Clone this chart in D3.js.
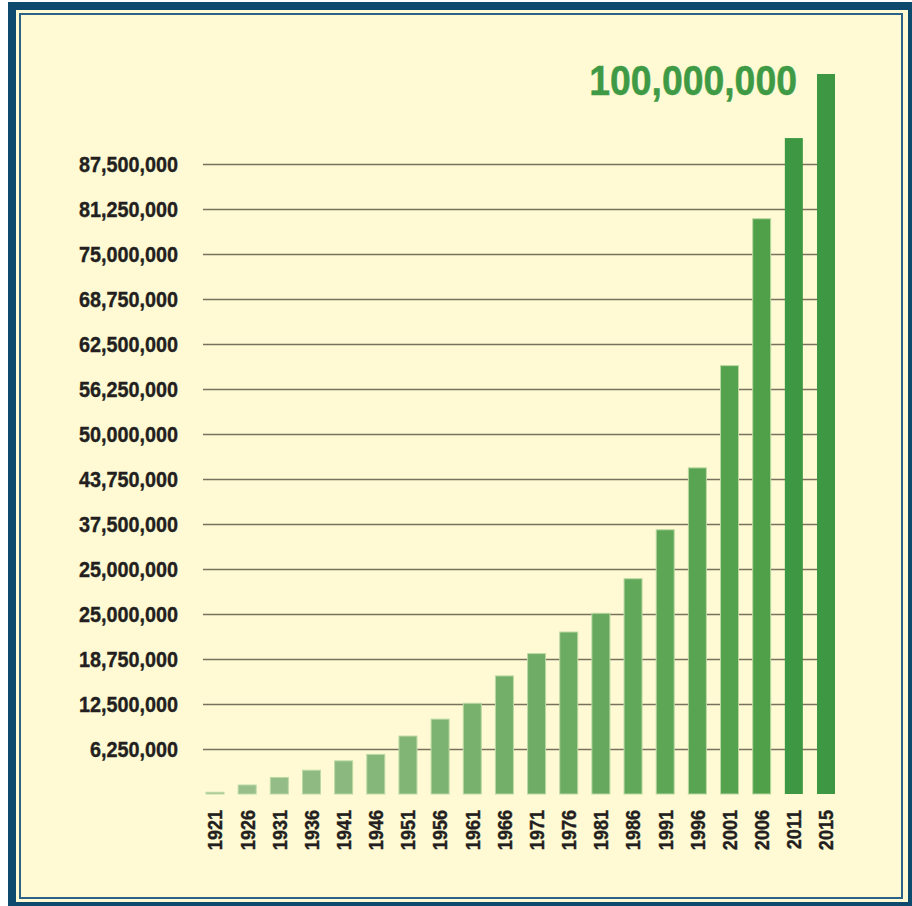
<!DOCTYPE html>
<html>
<head>
<meta charset="utf-8">
<script src="https://cdn.jsdelivr.net/npm/d3@7"></script>
<style>
  html, body { margin: 0; padding: 0; background: #ffffff; }
  svg { display: block; }
  .label { font-family: "Liberation Sans", Arial, Helvetica, sans-serif; font-weight: bold; }
</style>
</head>
<body>
<svg id="chart" width="912" height="906"></svg>
<script>
// data
var years = ["1921", "1926", "1931", "1936", "1941", "1946", "1951", "1956", "1961", "1966",
             "1971", "1976", "1981", "1986", "1991", "1996", "2001", "2006", "2011", "2015"];
var population = [240000, 1250000, 2300000, 3300000, 4600000, 5500000, 8050000, 10400000, 12600000, 16400000,
                  19500000, 22500000, 25100000, 29900000, 36700000, 45300000, 59500000, 79900000, 91100000, 100000000];
var tickValues = [6250000, 12500000, 18750000, 25000000, 31250000, 37500000, 43750000,
                  50000000, 56250000, 62500000, 68750000, 75000000, 81250000, 87500000];
// labels as printed on the original (the 31,250,000 line reads 25,000,000)
var tickLabels = ["6,250,000", "12,500,000", "18,750,000", "25,000,000", "25,000,000", "37,500,000", "43,750,000",
                  "50,000,000", "56,250,000", "62,500,000", "68,750,000", "75,000,000", "81,250,000", "87,500,000"];

var svg = d3.select("#chart");
var W = 912, H = 906;

// no condensed font installed, so squeeze a bold sans sideways
var squeezeTicks = 0.9, squeezeYears = 0.86, squeezeBig = 0.89;

// frame
svg.append("rect").attr("x", 8).attr("y", 2).attr("width", W - 8).attr("height", H - 2).attr("fill", "#0e4a6e");
svg.append("rect").attr("x", 16).attr("y", 10).attr("width", 892).attr("height", 892).attr("fill", "#fffad3");
svg.append("rect").attr("x", 20).attr("y", 14).attr("width", 882).attr("height", 884)
    .attr("fill", "none").attr("stroke", "#2b6285").attr("stroke-width", 2);

var x = d3.scaleBand().domain(years).range([197, 844]).paddingInner(0.44).paddingOuter(0.28);
var y = d3.scaleLinear().domain([0, 100000000]).range([794, 74]);

var shade = d3.scaleLinear().domain([0, 17]).range(["#9cc08e", "#50a04a"]).clamp(true);
var highlight = "#3e9843";

// grid + value labels
var gridLeft = 203, gridRight = 817, pad = 25;
var yAxis = svg.append("g")
    .attr("transform", "translate(" + gridLeft + ",0)")
    .call(d3.axisLeft(y)
        .tickValues(tickValues)
        .tickSize(-(gridRight - gridLeft))
        .tickPadding(pad)
        .tickFormat(function (d, i) { return tickLabels[i]; }));
yAxis.select(".domain").remove();
yAxis.selectAll(".tick line").attr("stroke", "#76725e").attr("stroke-width", 1.3);
yAxis.selectAll(".tick text")
    .attr("class", "label")
    .attr("fill", "#231f20")
    .attr("stroke", "#231f20")
    .attr("stroke-width", 0.4)
    .attr("x", -pad / squeezeTicks)
    .attr("transform", "scale(" + squeezeTicks + ",1)")
    .style("font-size", "22px");

// bars
svg.append("g").selectAll("rect")
    .data(population)
    .join("rect")
    .attr("x", function (d, i) { return x(years[i]); })
    .attr("y", function (d) { return y(d); })
    .attr("width", x.bandwidth())
    .attr("height", function (d) { return y(0) - y(d); })
    .attr("fill", function (d, i) { return i >= 18 ? highlight : shade(i); })
    .attr("stroke", function (d, i) { return i >= 18 ? "none" : "#bcd9a3"; })
    .attr("stroke-width", 1);

// year labels
var xAxis = svg.append("g")
    .attr("transform", "translate(0," + y(0) + ")")
    .call(d3.axisBottom(x).tickSize(0));
xAxis.select(".domain").remove();
xAxis.selectAll(".tick text")
    .attr("class", "label")
    .attr("fill", "#231f20")
    .attr("stroke", "#231f20")
    .attr("stroke-width", 0.4)
    .attr("transform", "rotate(-90) scale(" + squeezeYears + ",1)")
    .attr("x", -16 / squeezeYears)
    .attr("y", 0)
    .attr("dy", "0.35em")
    .style("text-anchor", "end")
    .style("font-size", "21px");

// highlight value
var last = population.length - 1;
svg.append("text")
    .attr("class", "label")
    .attr("transform", "translate(" + (x(years[last]) - 20) + "," + (y(population[last]) + 21) + ") scale(" + squeezeBig + ",1)")
    .attr("text-anchor", "end")
    .attr("fill", "#3f9a46")
    .attr("stroke", "#3f9a46")
    .attr("stroke-width", 0.5)
    .style("font-size", "42px")
    .text(d3.format(",")(population[last]));
</script>
</body>
</html>
